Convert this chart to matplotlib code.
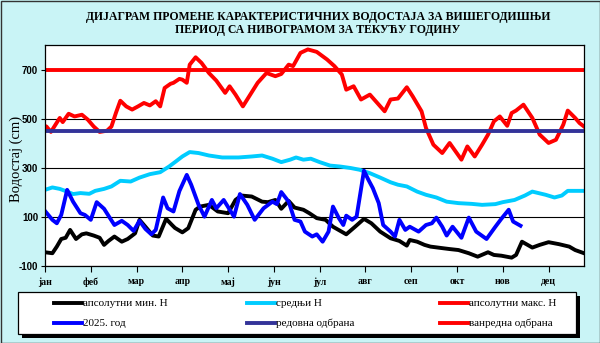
import matplotlib
matplotlib.use("Agg")
from matplotlib import pyplot as plt
from matplotlib.lines import Line2D
from matplotlib.patches import Rectangle

# day of year -> water level (cm)
max_days = [0, 1, 4, 10, 12, 16, 20, 25, 29, 33, 37, 42, 45, 48, 51, 55, 59, 63, 67, 71, 75, 78, 81, 85, 87, 91,
            93, 96, 98, 102, 106, 111, 116, 122, 125, 129, 134, 139, 144, 150, 156, 160, 165, 168, 173, 178,
            184, 191, 196, 201, 204, 209, 214, 220, 225, 230, 234, 239, 245, 249, 255, 258, 263, 269, 274,
            278, 282, 286, 291, 296, 300, 304, 308, 313, 316, 319, 324, 330, 335, 341, 346, 351, 354, 359, 362, 365]
max_vals = [470, 468, 446, 503, 486, 520, 509, 516, 496, 468, 446, 451, 468, 523, 573, 550, 537, 550, 564, 554, 571, 550, 625, 642, 646, 662,
            659, 646, 720, 750, 727, 686, 655, 605, 632, 598, 550, 598, 646, 686, 673, 682, 720, 714, 768, 782,
            772, 741, 714, 680, 618, 632, 578, 598, 564, 530, 578, 582, 628, 591, 530, 462, 394, 360, 401,
            367, 333, 387, 346, 394, 435, 489, 509, 471, 523, 533, 557, 503, 435, 401, 414, 476, 533, 503, 482, 468]

mean_days = [0, 5, 10, 15, 19, 24, 30, 34, 40, 45, 51, 58, 64, 71, 78, 84, 88, 93, 98, 104, 111, 120, 131, 140, 147,
             154, 160, 166, 170, 175, 180, 186, 193, 200, 207, 213, 220, 227, 234, 239, 245, 252, 258, 265, 272,
             280, 289, 296, 305, 310, 318, 325, 330, 339, 345, 350, 354, 365]
mean_vals = [210, 220, 214, 203, 193, 197, 194, 206, 214, 224, 247, 244, 260, 274, 282, 305, 323, 346, 364, 360, 350, 342, 342, 346, 350,
             337, 323, 333, 342, 333, 337, 323, 309, 305, 299, 292, 278, 260, 241, 231, 224, 203, 190, 179, 162,
             156, 153, 149, 152, 160, 169, 187, 203, 190, 179, 187, 206, 206]

min_days = [0, 5, 8, 11, 14, 17, 21, 25, 28, 33, 37, 40, 43, 47, 52, 56, 61, 64, 68, 73, 77, 82, 86, 88, 93, 97,
            102, 105, 111, 117, 124, 129, 133, 140, 147, 151, 156, 160, 165, 169, 175, 179, 184, 190, 195, 204,
            210, 216, 221, 227, 234, 240, 245, 247, 252, 257, 261, 270, 274, 280, 287, 293, 300, 304, 309, 316,
            319, 323, 330, 335, 341, 348, 355, 359, 365]
min_vals = [-44, -48, -21, 10, 15, 47, 10, 29, 33, 24, 15, -14, 2, 20, -1, 10, 33, 88, 60, 24, 20, 92, 67, 55, 37, 54,
            129, 142, 149, 122, 115, 169, 187, 183, 162, 160, 169, 133, 165, 138, 129, 115, 95, 88, 60, 29,
            60, 92, 74, 40, 13, 2, -17, 6, -1, -14, -21, -28, -31, -35, -48, -62, -44, -55, -58, -66,
            -55, -1, -25, -14, -3, -11, -21, -35, -48]

cur_days = [0, 5, 8, 11, 15, 19, 24, 27, 31, 35, 40, 44, 47, 52, 56, 60, 64, 68, 72, 75, 80, 83, 87, 91, 96, 99,
            104, 108, 113, 116, 121, 128, 132, 137, 142, 148, 154, 157, 160, 165, 169, 173, 176, 181, 184, 188,
            192, 195, 199, 202, 204, 208, 211, 216, 219, 222, 226, 229, 234, 237, 240, 244, 247, 253, 258, 262,
            265, 269, 272, 276, 282, 287, 292, 299, 305, 309, 314, 317, 322]
cur_vals = [124, 88, 74, 108, 210, 162, 115, 108, 88, 160, 133, 95, 67, 84, 67, 43, 84, 51, 29, 47, 179, 135, 122, 205, 271, 231,
            149, 101, 169, 135, 169, 101, 193, 149, 88, 135, 162, 152, 201, 162, 88, 81, 40, 20, 29, -1,
            40, 142, 95, 67, 105, 88, 101, 288, 251, 217, 156, 67, 40, 20, 88, 47, 60, 40, 67, 74,
            97, 60, 24, 60, 15, 97, 40, 10, 60, 92, 129, 81, 64]

regular_defence = 450
emergency_defence = 700

month_days = [0, 31, 62, 93, 124, 155, 186, 217, 248, 279, 310, 341]
month_labels = ['јан', 'феб', 'мар', 'апр', 'мај', 'јун', 'јул', 'авг', 'сеп', 'окт', 'нов', 'дец']
y_ticks = [-100, 100, 300, 500, 700]

bg = '#c9f4f6'
serif = 'Liberation Serif'
W, H = 600, 343

fig = plt.figure(figsize=(6, 3.43), dpi=100, facecolor=bg)
ax = fig.add_axes([45 / W, 1 - 266 / H, (584 - 45) / W, (266 - 45) / H])
ax.set_facecolor('white')

lw = 2.8
l_min, = ax.plot(min_days, min_vals, color='black', lw=lw, solid_joinstyle='round')
l_mean, = ax.plot(mean_days, mean_vals, color='#00ccff', lw=lw, solid_joinstyle='round')
l_max, = ax.plot(max_days, max_vals, color='#ff0000', lw=lw, solid_joinstyle='round')
l_cur, = ax.plot(cur_days, cur_vals, color='#0000ff', lw=lw, solid_joinstyle='round')
l_reg = ax.axhline(regular_defence, color='#333399', lw=lw)
l_em = ax.axhline(emergency_defence, color='#ff0000', lw=lw)

ax.set_xlim(0, 365)
ax.set_ylim(-100, 800)
ax.set_yticks(y_ticks)
ax.set_yticklabels([str(v) for v in y_ticks], fontfamily='Liberation Sans', fontweight='bold', fontsize=7)
ax.set_xticks(month_days)
ax.set_xticklabels(month_labels, fontfamily=serif, fontweight='bold', fontsize=7)
ax.tick_params(axis='y', length=3, width=0.8, pad=2)
ax.tick_params(axis='x', length=4, width=0.8, pad=4)
ax.grid(axis='y', color='black', lw=0.8)
ax.set_axisbelow(True)
for s in ax.spines.values():
    s.set_linewidth(0.9)

fig.text(16 / W, 1 - 159 / H, 'Водостај (cm)', rotation=90, ha='center', va='center',
         fontfamily=serif, fontsize=10.5)

fig.text(318 / W, 1 - 17 / H, 'ДИЈАГРАМ ПРОМЕНЕ КАРАКТЕРИСТИЧНИХ ВОДОСТАЈА ЗА ВИШЕГОДИШЊИ',
         ha='center', va='center', fontfamily=serif, fontweight='bold', fontsize=8.5)
fig.text(318 / W, 1 - 30 / H, 'ПЕРИОД СА НИВОГРАМОМ ЗА ТЕКУЋУ ГОДИНУ',
         ha='center', va='center', fontfamily=serif, fontweight='bold', fontsize=8.5)

# legend box with shadow
lx0, ly0, lx1, ly1 = 18, 292, 576, 334
fig.add_artist(Rectangle((lx0 / W + 4 / W, 1 - ly1 / H - 4 / H), (lx1 - lx0) / W, (ly1 - ly0) / H,
                         transform=fig.transFigure, facecolor='black', edgecolor='none'))
fig.add_artist(Rectangle((lx0 / W, 1 - ly1 / H), (lx1 - lx0) / W, (ly1 - ly0) / H,
                         transform=fig.transFigure, facecolor='white', edgecolor='black', lw=0.9))

items = [(l_min, 'апсолутни мин. Н'), (l_mean, 'средњи Н'), (l_max, 'апсолутни макс. Н'),
         (l_cur, '2025. год'), (l_reg, 'редовна одбрана'), (l_em, 'ванредна одбрана')]
col_x = [54, 247, 440]
row_y = [303, 323]
for i, (ln, label) in enumerate(items):
    x = col_x[i % 3]
    y = 1 - row_y[i // 3] / H
    fig.add_artist(Line2D([x / W, (x + 28) / W], [y, y], transform=fig.transFigure,
                          color=ln.get_color(), lw=lw))
    fig.text((x + 29) / W, y, label, ha='left', va='center', fontfamily=serif, fontsize=8)

fig.add_artist(Rectangle((0.5 / W, 0.5 / H), 1 - 1 / W, 1 - 1 / H, transform=fig.transFigure,
                         facecolor='none', edgecolor='#333333', lw=1))

fig.savefig('out.png', dpi=100, facecolor=bg)
